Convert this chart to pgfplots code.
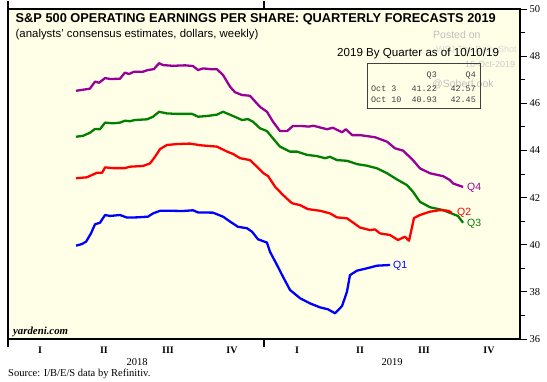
\documentclass[border=0pt]{standalone}
\usepackage{pgfplots}
\pgfplotsset{compat=1.18}
\usepackage{fontspec}
\setmainfont{Liberation Sans}
\newfontfamily\serif{Liberation Serif}
\newfontfamily\mono{Liberation Mono}
\definecolor{bgyellow}{RGB}{255,255,232}
\definecolor{qfour}{RGB}{153,0,153}
\definecolor{qthree}{RGB}{0,128,0}
\definecolor{qtwo}{RGB}{255,0,0}
\definecolor{qone}{RGB}{0,0,255}
\definecolor{wm}{RGB}{190,190,190}
\newcommand{\fs}[1]{\fontsize{#1}{#1}\selectfont}
\begin{document}
\begin{tikzpicture}
\path[use as bounding box] (-8pt,-43pt) rectangle (539pt,339pt);
\begin{axis}[
  scale only axis, width=512pt, height=330pt,
  xmin=0, xmax=24, ymin=36, ymax=50,
  axis background/.style={fill=bgyellow},
  axis line style={line width=1.1pt},
  xtick=\empty,
  extra x ticks={0,12}, extra x tick labels={},
  extra x tick style={major tick length=8pt, tick style={line width=1.6pt, black}},
  ytick={36,38,...,50}, minor ytick={37,39,...,49},
  ytick pos=right, yticklabel pos=right,
  tick align=outside,
  major tick length=7pt, minor tick length=5pt,
  every tick/.style={black, line width=0.8pt},
  yticklabel style={font=\serif\fs{10.5}, xshift=-1pt},
  /pgf/number format/assume math mode=true,
  every axis plot/.append style={line width=2.3pt, line join=round, no markers},
]
% Q4
\addplot[qfour] coordinates {
(3.19,46.53)(3.84,46.62)(4.08,46.92)(4.27,46.87)(4.55,47.07)(4.78,47.03)(5.25,47.04)
(5.48,47.30)(5.67,47.24)(5.91,47.34)(6.33,47.34)(6.56,47.41)(6.84,47.45)(7.08,47.70)
(7.27,47.62)(7.73,47.59)(8.30,47.61)(8.67,47.58)(8.91,47.41)(9.14,47.48)(9.47,47.45)
(9.80,47.44)(10.08,47.20)(10.41,46.70)(10.64,46.47)(10.97,46.35)(11.34,46.32)(11.81,45.85)
(12.14,45.64)(12.42,45.22)(12.75,44.82)(13.08,44.82)(13.36,45.04)(13.69,45.04)(14.11,45.01)
(14.30,45.05)(14.95,44.90)(15.23,44.96)(15.66,44.77)(15.84,44.90)(16.13,44.65)(16.50,44.65)
(17.20,44.56)(17.77,44.37)(18.14,44.09)(18.52,43.99)(18.98,43.59)(19.31,43.24)(19.78,43.03)
(20.39,42.91)(20.72,42.74)(20.86,42.60)(21.33,42.45)};
% Q3
\addplot[qthree] coordinates {
(3.19,44.58)(3.52,44.62)(3.84,44.75)(4.08,44.91)(4.31,44.90)(4.55,45.18)(4.92,45.15)
(5.25,45.18)(5.48,45.26)(5.72,45.24)(5.95,45.29)(6.52,45.32)(6.80,45.43)(7.08,45.64)
(7.45,45.57)(7.92,45.55)(8.63,45.55)(8.91,45.43)(9.33,45.46)(9.80,45.52)(10.08,45.64)
(10.55,45.46)(10.97,45.29)(11.25,45.33)(11.48,45.22)(11.81,44.94)(12.14,44.82)(12.42,44.51)
(12.75,44.16)(13.22,43.95)(13.55,43.95)(14.02,43.81)(14.48,43.76)(14.86,43.67)(15.09,43.73)
(15.42,43.59)(15.89,43.56)(16.36,43.42)(16.83,43.35)(17.30,43.24)(17.77,43.03)(18.23,42.77)
(18.70,42.53)(18.98,42.25)(19.31,41.82)(19.78,41.59)(20.39,41.47)(20.58,41.40)(21.09,41.22)
(21.33,40.93)};
% Q2
\addplot[qtwo] coordinates {
(3.19,42.82)(3.70,42.86)(3.94,42.96)(4.17,43.05)(4.41,43.05)(4.55,43.28)(4.92,43.25)
(5.48,43.25)(5.72,43.31)(6.33,43.34)(6.66,43.45)(6.89,43.73)(7.13,44.06)(7.45,44.23)
(7.92,44.27)(8.53,44.29)(9.00,44.22)(9.80,44.16)(10.27,43.95)(10.55,43.85)(10.88,43.67)
(11.34,43.59)(11.67,43.31)(11.95,43.05)(12.19,42.91)(12.52,42.46)(12.89,42.11)(13.31,41.76)
(13.69,41.68)(14.06,41.51)(14.63,41.44)(15.09,41.33)(15.42,41.16)(15.89,41.12)(16.50,40.73)
(16.97,40.62)(17.20,40.65)(17.44,40.48)(17.91,40.41)(18.28,40.20)(18.61,40.34)(18.80,40.17)
(19.03,41.13)(19.31,41.26)(19.78,41.40)(20.25,41.47)(20.63,41.44)(20.81,41.35)};
% Q1
\addplot[qone] coordinates {
(3.19,39.96)(3.47,40.03)(3.66,40.13)(3.89,40.48)(4.08,40.87)(4.31,40.93)(4.55,41.26)
(4.78,41.22)(5.25,41.26)(5.58,41.15)(6.05,41.16)(6.56,41.19)(6.80,41.33)(7.13,41.44)
(7.59,41.44)(8.20,41.43)(8.67,41.46)(8.91,41.37)(9.61,41.36)(10.08,41.19)(10.41,40.98)
(10.78,40.76)(11.20,40.70)(11.44,40.55)(11.72,40.23)(12.14,40.09)(12.28,39.70)(12.61,39.14)
(12.89,38.64)(13.22,38.08)(13.69,37.73)(14.16,37.51)(14.63,37.34)(15.00,37.26)(15.33,37.09)
(15.66,37.40)(15.89,38.01)(16.03,38.71)(16.36,38.90)(16.83,39.00)(17.30,39.11)(17.91,39.14)};
\end{axis}
\begin{scope}[x=1pt,y=-1pt,shift={(-8pt,339pt)}]
% title block
\node[anchor=west, font=\bfseries\fs{12.8}, inner sep=0] at (15.5,19) {S\&P 500 OPERATING EARNINGS PER SHARE: QUARTERLY FORECASTS 2019};
\node[anchor=west, font=\fs{11.4}, inner sep=0] at (15.5,35) {(analysts' consensus estimates, dollars, weekly)};
% watermarks
\node[anchor=west, font=\fs{10.5}, text=wm, inner sep=0] at (433,35) {Posted on};
\node[anchor=west, font=\fs{9}, text=wm!60, inner sep=0] at (436,50) {WSJ The Daily Shot};
\node[anchor=west, font=\fs{9}, text=wm!80, inner sep=0] at (465,64) {16-Oct-2019};
\node[anchor=west, font=\fs{10.5}, text=wm, inner sep=0] at (432,84) {@SoberLook};
\node[anchor=west, font=\fs{11.6}, inner sep=0] at (337,54) {2019 By Quarter as of 10/10/19};
% inset box
\draw[line width=1pt, black!75] (367,64) rectangle (480,109);
\begin{scope}[every node/.style={font=\mono\fs{8.4}, inner sep=0, text=black!75}]
\node[anchor=east] at (437,75) {Q3};
\node[anchor=east] at (476,75) {Q4};
\node[anchor=west] at (371,89) {Oct  3};
\node[anchor=east] at (437,89) {41.22};
\node[anchor=east] at (476,89) {42.57};
\node[anchor=west] at (371,99.5) {Oct 10};
\node[anchor=east] at (437,99.5) {40.93};
\node[anchor=east] at (476,99.5) {42.45};
\end{scope}
% series labels
\node[anchor=west, font=\fs{10.5}, text=qfour, inner sep=0] at (467,188) {Q4};
\node[anchor=west, font=\fs{10.5}, text=qtwo, inner sep=0] at (457,213) {Q2};
\node[anchor=west, font=\fs{10.5}, text=qthree, inner sep=0] at (467,223.5) {Q3};
\node[anchor=west, font=\fs{10.5}, text=qone, inner sep=0] at (393,266) {Q1};
% yardeni
\node[anchor=west, font=\serif\bfseries\itshape\fs{10.8}, inner sep=0] at (13,332) {yardeni.com};
% quarter labels
\begin{scope}[every node/.style={font=\serif\bfseries\fs{10}, inner sep=0}]
\node at (40,350.5) {I};
\node at (104,350.5) {II};
\node at (168,350.5) {III};
\node at (232,350.5) {IV};
\node at (297,350.5) {I};
\node at (360,350.5) {II};
\node at (424,350.5) {III};
\node at (489,350.5) {IV};
\end{scope}
\node[font=\serif\fs{10.5}, inner sep=0] at (137,362.5) {2018};
\node[font=\serif\fs{10.5}, inner sep=0] at (392,362.5) {2019};
\node[anchor=west, font=\serif\fs{10.5}, inner sep=0] at (8,374) {Source: I/B/E/S data by Refinitiv.};
\end{scope}
\end{tikzpicture}
\end{document}
